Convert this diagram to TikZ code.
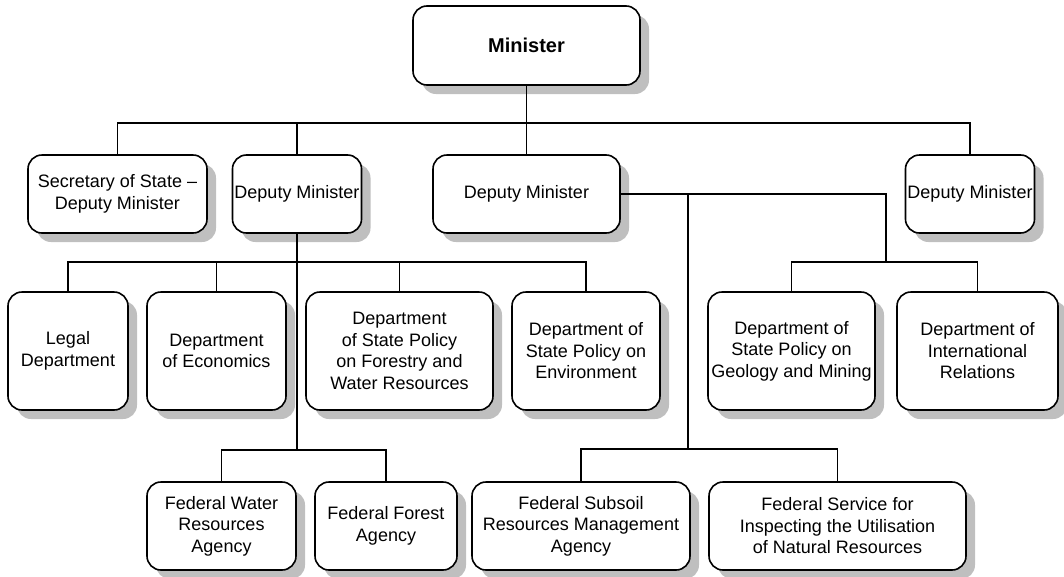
\documentclass[tikz,border=0pt]{standalone}
\usepackage{fontspec}
\setmainfont{Liberation Sans}
\usetikzlibrary{shadows}

\begin{document}
\begin{tikzpicture}[x=1pt, y=-1pt,
  unit/.style={draw, line width=1.6pt, rounded corners=14pt, fill=white, align=center, inner sep=2pt,
    font=\fontsize{18}{21.5}\selectfont,
    drop shadow={shadow xshift=9pt, shadow yshift=-9pt, fill=gray!50, opacity=1}},
  top/.style={unit, minimum height=78pt},
  dept/.style={unit, minimum height=118pt},
  agency/.style={unit, minimum height=88pt},
  link/.style={line width=1.6pt}]
  \useasboundingbox (0,0) rectangle (1064,576);

  \node[unit, minimum width=227pt, minimum height=79pt, font=\bfseries\fontsize{20}{24}\selectfont] (minister) at (526.5,45.5) {Minister};

  % first level
  \node[top, minimum width=179pt] (secretary) at (117.5,194) {Secretary of State –\\Deputy Minister};
  \node[top, minimum width=128pt] (deputy-a) at (297,194) {Deputy Minister};
  \node[top, minimum width=187pt] (deputy-b) at (526.5,194) {Deputy Minister};
  \node[top, minimum width=128pt] (deputy-c) at (970,194) {Deputy Minister};

  % departments
  \node[dept, minimum width=120pt] (legal) at (68,351) {Legal\\Department};
  \node[dept, minimum width=139pt] (economics) at (216.5,351) {Department\\of Economics};
  \node[dept, minimum width=187pt] (forestry) at (399.5,351) {Department\\of State Policy\\on Forestry and\\Water Resources};
  \node[dept, minimum width=148pt] (environment) at (586,351) {Department of\\State Policy on\\Environment};
  \node[dept, minimum width=167pt] (geology) at (791.5,351) {Department of\\State Policy on\\Geology and Mining};
  \node[dept, minimum width=161pt] (relations) at (977.5,351) {Department of\\International\\Relations};

  % federal agencies
  \node[agency, minimum width=149pt] (water) at (221.5,526) {Federal Water\\Resources\\Agency};
  \node[agency, minimum width=142pt] (forest-agency) at (386,526) {Federal Forest\\Agency};
  \node[agency, minimum width=218pt] (subsoil) at (581,526) {Federal Subsoil\\Resources Management\\Agency};
  \node[agency, minimum width=257pt] (inspection) at (837.5,526) {Federal Service for\\Inspecting the Utilisation\\of Natural Resources};

  % bus lines
  \coordinate (bus-top) at (526.5,123);
  \coordinate (bus-left) at (297,262);
  \coordinate (bus-low-left) at (297,450);
  \coordinate (hub-b) at (688,194);
  \coordinate (hub-c) at (886,194);
  \coordinate (bus-right) at (886,262);
  \coordinate (bus-low-right) at (688,449);

  \draw[link] (minister.south) -- (bus-top);
  \draw[link] (secretary.north) |- (bus-top) -| (deputy-c.north);
  \draw[link] (deputy-a.north) -- (deputy-a.north |- bus-top);
  \draw[link] (deputy-b.north) -- (bus-top);

  \draw[link] (deputy-a.south) -- (bus-low-left);
  \draw[link] (legal.north) |- (bus-left) -| (environment.north);
  \draw[link] (economics.north) -- (economics.north |- bus-left);
  \draw[link] (forestry.north) -- (forestry.north |- bus-left);
  \draw[link] (water.north) |- (bus-low-left) -| (forest-agency.north);

  \draw[link] (deputy-b.east) -- (hub-c) -- (bus-right);
  \draw[link] (geology.north) |- (bus-right) -| (relations.north);
  \draw[link] (hub-b) -- (bus-low-right);
  \draw[link] (subsoil.north) |- (bus-low-right) -| (inspection.north);
\end{tikzpicture}
\end{document}
